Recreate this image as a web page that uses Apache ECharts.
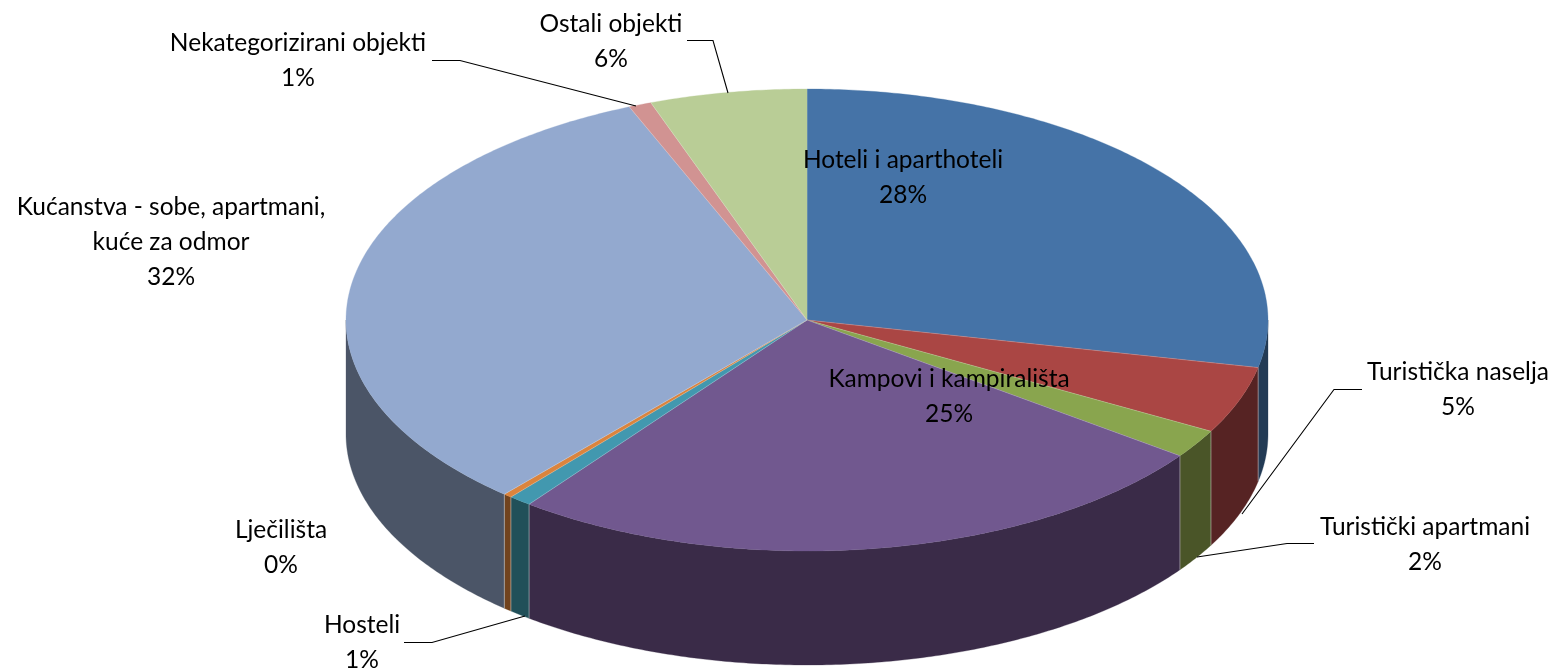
<!DOCTYPE html>
<html>
<head>
<meta charset="utf-8">
<title>Kapaciteti</title>
<style>
  html, body { margin: 0; padding: 0; background: #fff; }
  #chart { width: 1555px; height: 668px; }
</style>
<script src="https://cdn.jsdelivr.net/npm/echarts@6/dist/echarts.min.js"></script>
</head>
<body>
<div id="chart"></div>
<script>
// share of beds per type of accommodation
const categories = [
  'Hoteli i aparthoteli',
  'Turistička naselja',
  'Turistički apartmani',
  'Kampovi i kampirališta',
  'Hosteli',
  'Lječilišta',
  'Kućanstva - sobe, apartmani,\nkuće za odmor',
  'Nekategorizirani objekti',
  'Ostali objekti',
];
const values = [28.3, 4.7, 2.0, 25.3, 0.8, 0.3, 32.3, 0.8, 5.5];
const topColors = ['#4573a7', '#aa4644', '#89a54e', '#71588f', '#4298af', '#db843d', '#93a9cf', '#d19392', '#b9cd96'];
const wallColors = ['#233b55', '#562323', '#4a5528', '#3a2b48', '#215059', '#71431e', '#4b5567', '#6b4a4a', '#5e684b'];

// label centre (x, y of first line) and leader line points, by category index
const labelPos = [[903, 160], [1458, 372], [1425, 527], [949, 379], [362, 625], [281, 530], [171, 207], [298, 43], [611, 24]];
const leaders = {
  1: [[1362, 389.5], [1334, 389.5], [1242, 514]],
  2: [[1314, 543.5], [1287, 543.5], [1197, 557]],
  4: [[404, 642.5], [432, 642.5], [525, 616]],
  7: [[432, 60.5], [460, 60.5], [636, 106]],
  8: [[687, 40.5], [713, 40.5], [728, 93]],
};

const cx = 807, cy = 320, rx = 461, ry = 231, depth = 114;
const total = values.reduce((a, b) => a + b, 0);

function rimPoint(t, dy) {
  return [cx + rx * Math.sin(t), cy - ry * Math.cos(t) + (dy || 0)];
}

function arcPoints(from, to, dy) {
  const n = Math.max(2, Math.ceil((to - from) / 0.01));
  const pts = [];
  for (let i = 0; i <= n; i++) pts.push(rimPoint(from + (to - from) * i / n, dy));
  return pts;
}

function renderSlice(params, api) {
  const i = params.dataIndex;
  let before = 0;
  for (let k = 0; k < i; k++) before += values[k];
  const v = api.value(0);
  const t0 = before / total * Math.PI * 2;
  const t1 = (before + v) / total * Math.PI * 2;
  const children = [];

  // side wall, only the front half of the rim shows
  const w0 = Math.max(t0, Math.PI / 2);
  const w1 = Math.min(t1, Math.PI * 1.5);
  if (w1 > w0) {
    const wall = arcPoints(w0, w1, 0).concat(arcPoints(w0, w1, depth).reverse());
    children.push({ type: 'polygon', shape: { points: wall }, style: { fill: wallColors[i], stroke: wallColors[i], lineWidth: 0.3 } });
    if (t0 >= Math.PI / 2) {
      children.push({ type: 'line', shape: { x1: rimPoint(t0)[0], y1: rimPoint(t0)[1], x2: rimPoint(t0)[0], y2: rimPoint(t0, depth)[1] }, style: { stroke: 'rgba(255,255,255,0.4)', lineWidth: 1 } });
    }
  }

  // top face
  const top = [[cx, cy]].concat(arcPoints(t0, t1, 0));
  children.push({ type: 'polygon', shape: { points: top }, style: { fill: topColors[i], stroke: topColors[i], lineWidth: 0.3 } });
  const p0 = rimPoint(t0);
  children.push({ type: 'line', shape: { x1: cx, y1: cy, x2: p0[0], y2: p0[1] }, style: { stroke: 'rgba(255,255,255,0.3)', lineWidth: 0.7 } });
  return { type: 'group', children: children };
}

function renderLabel(params, api) {
  const i = params.dataIndex;
  const children = [{
    type: 'text',
    x: labelPos[i][0],
    y: labelPos[i][1] - 17.5,
    style: {
      text: categories[i] + '\n' + Math.round(api.value(0)) + '%',
      font: '24.5px Lato',
      lineHeight: 35,
      fill: '#000',
      align: 'center',
      verticalAlign: 'top',
    },
  }];
  if (leaders[i]) {
    children.push({
      type: 'polyline',
      shape: { points: leaders[i] },
      style: { stroke: '#000', lineWidth: 1.1, fill: null },
    });
  }
  return { type: 'group', children: children };
}

const chart = echarts.init(document.getElementById('chart'));
const rows = values.map((v) => [v]);
chart.setOption({
  animation: false,
  series: [
    { type: 'custom', coordinateSystem: 'none', data: rows, renderItem: renderSlice, silent: true, z: 2 },
    { type: 'custom', coordinateSystem: 'none', data: rows, renderItem: renderLabel, silent: true, z: 3 },
  ],
});
</script>
</body>
</html>
